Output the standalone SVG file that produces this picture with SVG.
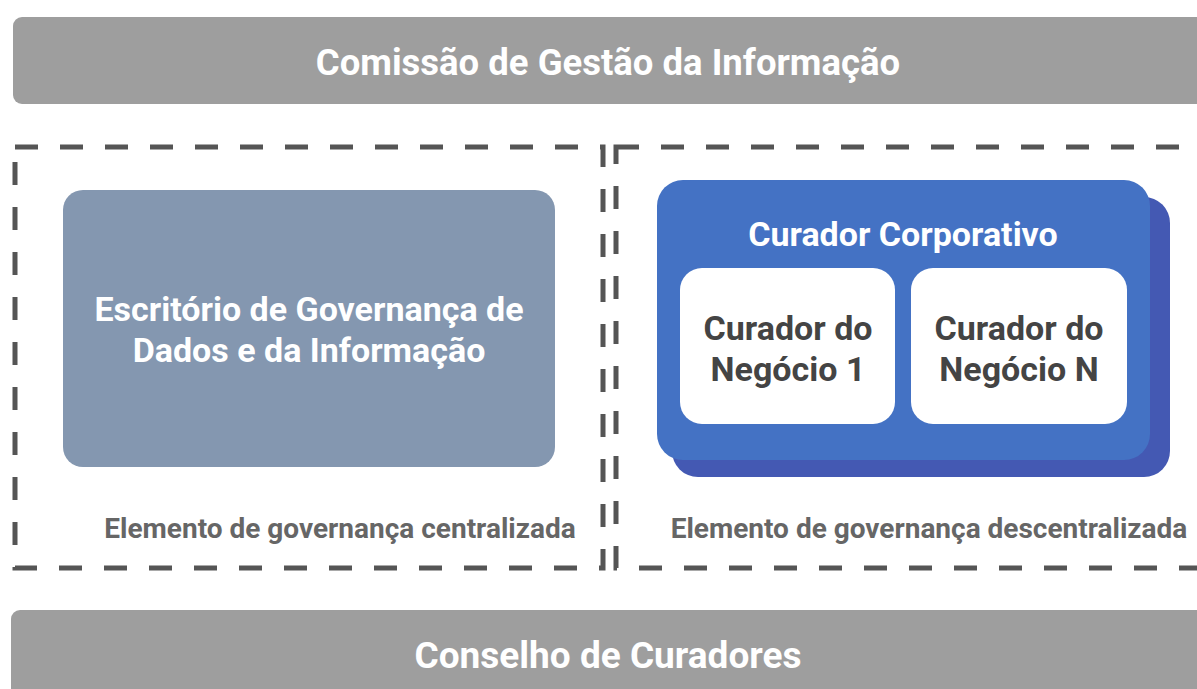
<svg xmlns="http://www.w3.org/2000/svg" width="1197" height="689" viewBox="0 0 1197 689">
<style>
.bar{fill:#9e9e9e}
.t{font-family:Roboto,"Liberation Sans",sans-serif;font-weight:700;text-anchor:middle}
.w{fill:#ffffff}
.dk{fill:#444444}
.cap{fill:#666666;font-size:28px}
.in{font-size:34px}
.dash{fill:none;stroke:#555555;stroke-width:5;stroke-dasharray:23 22}
</style>
<rect width="1197" height="689" fill="#ffffff"/>
<g id="comissao">
<rect class="bar" x="13" y="17" width="1195" height="87" rx="9"/>
<text class="t w" x="608" y="75" font-size="36.5">Comissão de Gestão da Informação</text>
</g>
<g id="centralizada">
<rect class="dash" x="15" y="147" width="588" height="421"/>
<text class="t cap" x="340" y="538">Elemento de governança centralizada</text>
</g>
<g id="descentralizada">
<rect class="dash" x="616" y="147" width="600" height="421"/>
<text class="t cap" x="929" y="538">Elemento de governança descentralizada</text>
</g>
<g id="escritorio">
<rect x="63" y="190" width="492" height="277" rx="20" fill="#8497b0"/>
<text class="t w in" x="309" y="321">Escritório de Governança de</text>
<text class="t w in" x="309" y="362">Dados e da Informação</text>
</g>
<g id="curador-corporativo">
<rect x="672" y="197" width="498" height="280" rx="26" fill="#4459b3"/>
<rect x="657" y="180" width="493" height="280" rx="26" fill="#4472c4"/>
<text class="t w in" x="903" y="246">Curador Corporativo</text>
</g>
<g id="negocio-1">
<rect x="680" y="268" width="215" height="156" rx="22" fill="#ffffff"/>
<text class="t dk in" x="788" y="340">Curador do</text>
<text class="t dk in" x="788" y="381">Negócio 1</text>
</g>
<g id="negocio-n">
<rect x="911" y="268" width="216" height="156" rx="22" fill="#ffffff"/>
<text class="t dk in" x="1019" y="340">Curador do</text>
<text class="t dk in" x="1019" y="381">Negócio N</text>
</g>
<g id="conselho">
<rect class="bar" x="11" y="610" width="1197" height="100" rx="9"/>
<text class="t w" x="608" y="668" font-size="37">Conselho de Curadores</text>
</g>
<g id="connectors"/>
</svg>
